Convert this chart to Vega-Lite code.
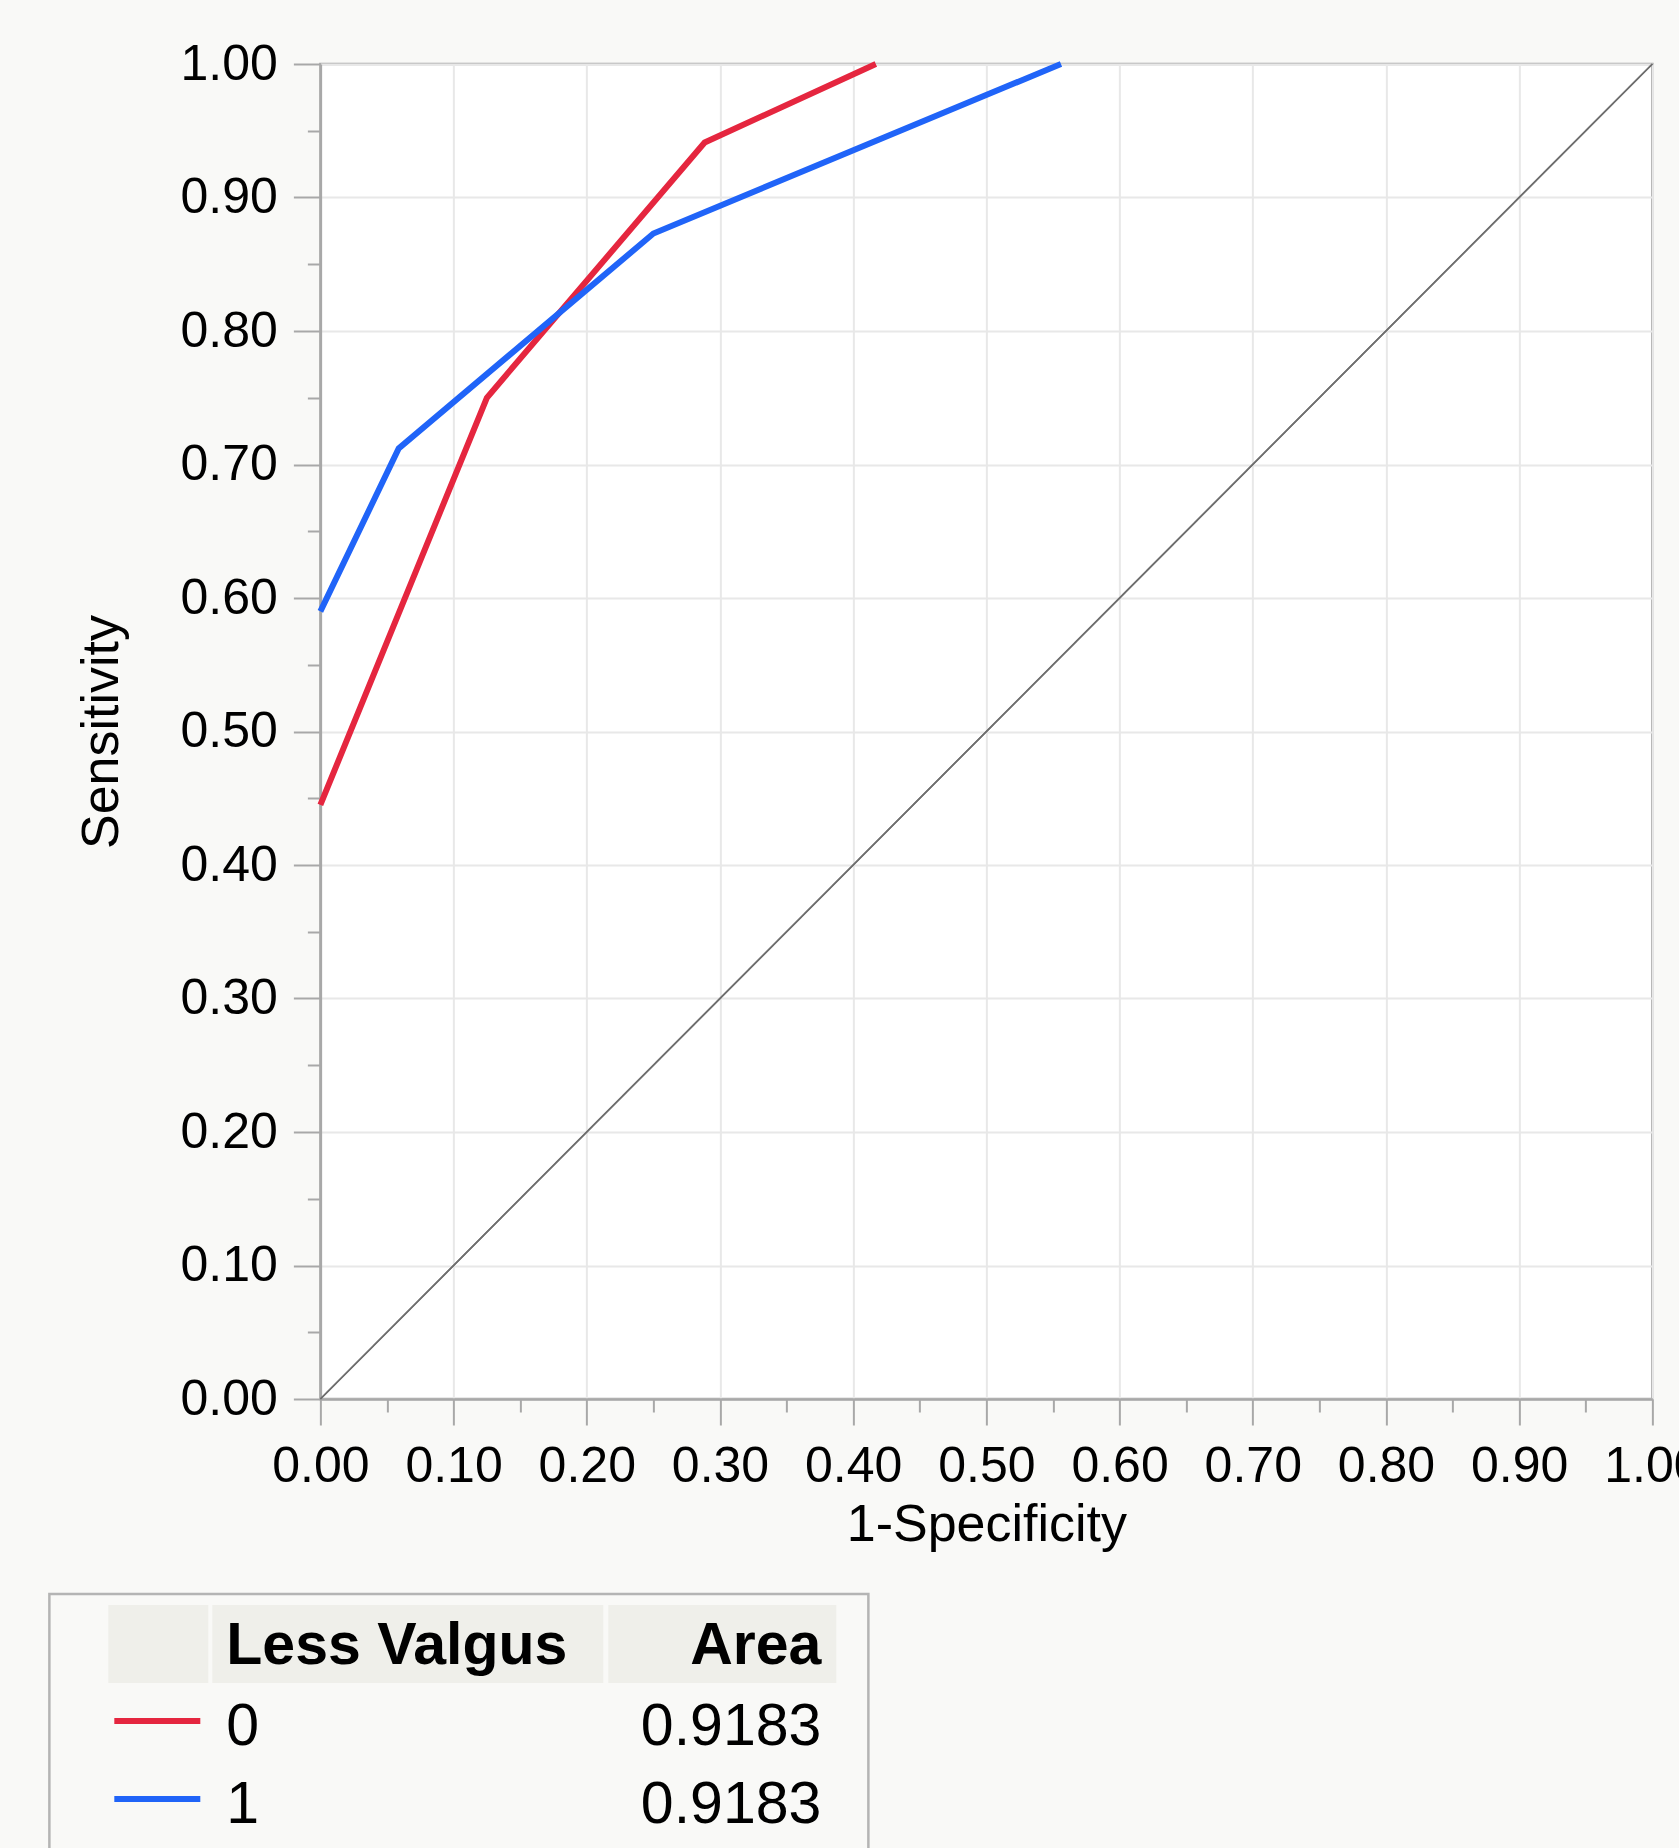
{
  "$schema": "https://vega.github.io/schema/vega-lite/v6.json",
  "background": "#f9f9f7",
  "padding": {"left": 47, "top": 37, "right": 0, "bottom": 0},
  "spacing": 40,
  "center": true,
  "config": {
    "font": "Liberation Sans",
    "text": {"font": "Liberation Sans", "color": "#000000"}
  },
  "datasets": {
    "roc": [
      {"level": "0", "fpr": 0, "tpr": 0.445},
      {"level": "0", "fpr": 0.125, "tpr": 0.75},
      {"level": "0", "fpr": 0.2885, "tpr": 0.9412},
      {"level": "0", "fpr": 0.417, "tpr": 1},
      {"level": "1", "fpr": 0, "tpr": 0.59},
      {"level": "1", "fpr": 0.0588, "tpr": 0.712},
      {"level": "1", "fpr": 0.25, "tpr": 0.873},
      {"level": "1", "fpr": 0.556, "tpr": 1}
    ],
    "diag": [{"fpr": 0, "tpr": 0}, {"fpr": 1, "tpr": 1}],
    "areas": [{"level": "0", "area": 0.9183}, {"level": "1", "area": 0.9183}],
    "header": [{"h": 1}]
  },
  "vconcat": [
    {
      "width": 1332,
      "height": 1335,
      "view": {"fill": "#ffffff", "stroke": "#a8a8a8", "strokeWidth": 2.5},
      "layer": [
        {
          "data": {"name": "diag"},
          "mark": {"type": "line", "color": "#6e6e6e", "strokeWidth": 1.6},
          "encoding": {
            "x": {"field": "fpr", "type": "quantitative",
              "scale": {"domain": [0, 1], "nice": false, "zero": false},
              "axis": {"orient": "bottom", "values": [0.05, 0.15, 0.25, 0.35, 0.45, 0.55, 0.65, 0.75, 0.85, 0.95],
                "labels": false, "domain": false, "grid": false, "title": null,
                "tickSize": 13, "tickWidth": 2, "tickColor": "#a8a8a8"}},
            "y": {"field": "tpr", "type": "quantitative",
              "scale": {"domain": [0, 1], "nice": false, "zero": false},
              "axis": {"orient": "left", "values": [0.05, 0.15, 0.25, 0.35, 0.45, 0.55, 0.65, 0.75, 0.85, 0.95],
                "labels": false, "domain": false, "grid": false, "title": null,
                "tickSize": 13, "tickWidth": 2, "tickColor": "#a8a8a8", "minExtent": 272, "maxExtent": 272}}
          }
        },
        {
          "data": {"name": "diag"},
          "mark": {"type": "line", "color": "#6e6e6e", "strokeWidth": 1.6},
          "encoding": {
            "x": {"field": "fpr", "type": "quantitative",
              "scale": {"domain": [0, 1], "nice": false, "zero": false},
              "axis": {"orient": "top", "values": [0.5], "labels": false, "domain": false, "grid": false, "title": null,
                "tickSize": 1, "tickOpacity": 0}},
            "y": {"field": "tpr", "type": "quantitative",
              "scale": {"domain": [0, 1], "nice": false, "zero": false},
              "axis": {"orient": "right", "values": [0.5], "labels": false, "domain": false, "grid": false, "title": null,
                "tickSize": 1, "tickOpacity": 0, "minExtent": 100, "maxExtent": 100}}
          }
        },
        {
          "data": {"name": "roc"},
          "mark": {"type": "line", "strokeWidth": 6},
          "encoding": {
            "x": {"field": "fpr", "type": "quantitative",
              "scale": {"domain": [0, 1], "nice": false, "zero": false},
              "axis": {"orient": "bottom", "values": [0, 0.1, 0.2, 0.3, 0.4, 0.5, 0.6, 0.7, 0.8, 0.9, 1],
                "format": ".2f", "labelFlush": false, "labelOverlap": false,
                "labelFontSize": 50, "labelColor": "#000000", "labelPadding": 16,
                "tickSize": 26, "tickWidth": 2, "tickColor": "#a8a8a8",
                "domainColor": "#a8a8a8", "domainWidth": 2.5,
                "grid": true, "gridColor": "#e8e8e8", "gridWidth": 2,
                "title": "1-Specificity", "titleFontSize": 52, "titleFontWeight": "normal",
                "titleColor": "#000000", "titlePadding": 8}},
            "y": {"field": "tpr", "type": "quantitative",
              "scale": {"domain": [0, 1], "nice": false, "zero": false},
              "axis": {"orient": "left", "values": [0, 0.1, 0.2, 0.3, 0.4, 0.5, 0.6, 0.7, 0.8, 0.9, 1],
                "format": ".2f", "labelOverlap": false,
                "labelFontSize": 50, "labelColor": "#000000", "labelPadding": 16,
                "tickSize": 27, "tickWidth": 2, "tickColor": "#a8a8a8",
                "domainColor": "#a8a8a8", "domainWidth": 2.5,
                "grid": true, "gridColor": "#e8e8e8", "gridWidth": 2,
                "title": "Sensitivity", "titleFontSize": 52, "titleFontWeight": "normal",
                "titleColor": "#000000", "titlePadding": 52}},
            "color": {"field": "level", "type": "nominal",
              "scale": {"domain": ["0", "1"], "range": ["#e5263f", "#2064f8"]}, "legend": null},
            "order": {"field": "fpr"}
          }
        }
      ],
      "resolve": {"axis": {"x": "independent", "y": "independent"}}
    },
    {
      "width": 819,
      "height": 300,
      "view": {"fill": null, "stroke": "#b4b4b4", "strokeWidth": 2.5},
      "layer": [
        {
          "data": {"name": "header"},
          "mark": {"type": "rect", "color": "#efefea", "xOffset": -118, "x2Offset": -18},
          "encoding": {
            "x": {"datum": "name", "type": "nominal", "scale": {"type": "point", "domain": ["name", "area"], "padding": 0.1882, "align": 0.79}, "axis": null},
            "x2": {"datum": "name"},
            "y": {"datum": "header", "type": "nominal", "scale": {"type": "band", "domain": ["header", "0", "1"], "paddingInner": 0, "paddingOuter": 0.423, "align": 0.1667},
              "axis": {"orient": "right", "labels": false, "domain": false, "grid": false, "title": null, "tickSize": 1, "tickOpacity": 0, "minExtent": 1155, "maxExtent": 1155}}
          }
        },
        {
          "data": {"name": "header"},
          "mark": {"type": "rect", "color": "#efefea", "xOffset": -14, "x2Offset": -218},
          "encoding": {
            "x": {"datum": "name", "type": "nominal", "axis": null},
            "x2": {"datum": "area"},
            "y": {"datum": "header", "type": "nominal",
              "axis": {"orient": "right", "labels": false, "domain": false, "grid": false, "title": null, "tickSize": 1, "tickOpacity": 0, "minExtent": 1155, "maxExtent": 1155}}
          }
        },
        {
          "data": {"name": "header"},
          "mark": {"type": "rect", "color": "#efefea", "xOffset": -213, "x2Offset": 15},
          "encoding": {
            "x": {"datum": "area", "type": "nominal", "axis": null},
            "x2": {"datum": "area"},
            "y": {"datum": "header", "type": "nominal",
              "axis": {"orient": "right", "labels": false, "domain": false, "grid": false, "title": null, "tickSize": 1, "tickOpacity": 0, "minExtent": 1155, "maxExtent": 1155}}
          }
        },
        {
          "data": {"name": "header"},
          "mark": {"type": "text", "align": "left", "baseline": "middle", "fontSize": 59, "fontWeight": "bold", "dy": 2},
          "encoding": {
            "x": {"datum": "name", "type": "nominal", "axis": null},
            "y": {"datum": "header", "type": "nominal",
              "axis": {"orient": "right", "labels": false, "domain": false, "grid": false, "title": null, "tickSize": 1, "tickOpacity": 0, "minExtent": 1155, "maxExtent": 1155}},
            "text": {"value": "Less Valgus"}
          }
        },
        {
          "data": {"name": "header"},
          "mark": {"type": "text", "align": "right", "baseline": "middle", "fontSize": 59, "fontWeight": "bold", "dy": 2},
          "encoding": {
            "x": {"datum": "area", "type": "nominal", "axis": null},
            "y": {"datum": "header", "type": "nominal",
              "axis": {"orient": "right", "labels": false, "domain": false, "grid": false, "title": null, "tickSize": 1, "tickOpacity": 0, "minExtent": 1155, "maxExtent": 1155}},
            "text": {"value": "Area"}
          }
        },
        {
          "data": {"name": "areas"},
          "mark": {"type": "rule", "strokeWidth": 6, "xOffset": -112, "x2Offset": -26, "yOffset": -1},
          "encoding": {
            "x": {"datum": "name", "type": "nominal", "axis": null},
            "x2": {"datum": "name"},
            "y": {"field": "level", "type": "nominal",
              "axis": {"orient": "right", "labels": false, "domain": false, "grid": false, "title": null, "tickSize": 1, "tickOpacity": 0, "minExtent": 1155, "maxExtent": 1155}},
            "color": {"field": "level", "type": "nominal",
              "scale": {"domain": ["0", "1"], "range": ["#e5263f", "#2064f8"]}, "legend": null}
          }
        },
        {
          "data": {"name": "areas"},
          "mark": {"type": "text", "align": "left", "baseline": "middle", "fontSize": 59, "dy": 5},
          "encoding": {
            "x": {"datum": "name", "type": "nominal", "axis": null},
            "y": {"field": "level", "type": "nominal",
              "axis": {"orient": "right", "labels": false, "domain": false, "grid": false, "title": null, "tickSize": 1, "tickOpacity": 0, "minExtent": 1155, "maxExtent": 1155}},
            "text": {"field": "level"}
          }
        },
        {
          "data": {"name": "areas"},
          "mark": {"type": "text", "align": "right", "baseline": "middle", "fontSize": 59, "dy": 5},
          "encoding": {
            "x": {"datum": "area", "type": "nominal", "axis": null},
            "y": {"field": "level", "type": "nominal",
              "axis": {"orient": "right", "labels": false, "domain": false, "grid": false, "title": null, "tickSize": 1, "tickOpacity": 0, "minExtent": 1155, "maxExtent": 1155}},
            "text": {"field": "area", "format": ".4f"}
          }
        }
      ]
    }
  ]
}
